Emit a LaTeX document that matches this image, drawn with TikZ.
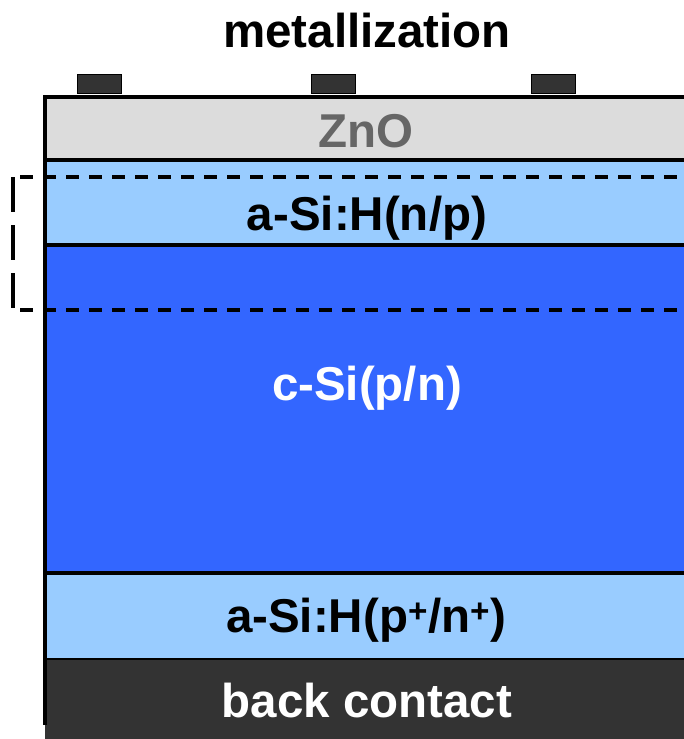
\documentclass[tikz,border=0pt]{standalone}
\usepackage{fontspec}
\setmainfont{Liberation Sans}
\usepackage{tikz}
\usetikzlibrary{ positioning, % For easy node-relative placements
               }
\definecolor{zncol}{HTML}{DCDCDC}
\definecolor{zntext}{HTML}{666666}
\definecolor{lightsi}{HTML}{99CCFF}
\definecolor{bulksi}{HTML}{3366FF}
\definecolor{darkmetal}{HTML}{333333}
\tikzstyle{layer} = [rectangle, inner sep=0pt, outer sep=0pt, minimum width=680pt, line width=3.5pt]
\tikzstyle{contact} = [rectangle, inner sep=0pt, minimum width=44pt, minimum height=19pt, fill=darkmetal, draw=black, line width=1pt]
\tikzstyle{label} = [anchor=base, inner sep=0pt, font=\fontsize{47.5}{57}\selectfont\bfseries]
\tikzstyle{dashline} = [line width=3.6pt, dash pattern=on 13pt off 10pt]

\begin{document}
\begin{tikzpicture}[x=1pt, y=-1pt]
  \clip (0,0) rectangle (684,739);

  % layer stack
  \node (zno) [layer, draw=black, fill=zncol, minimum height=63pt, anchor=north west] at (45,97) {};
  \node (emitter) [layer, draw=black, fill=lightsi, minimum height=85pt, below=0pt of zno] {};
  \node (wafer) [layer, draw=black, fill=bulksi, minimum height=328pt, below=0pt of emitter] {};
  \node (bsf) [layer, draw=black, fill=lightsi, minimum height=87pt, below=0pt of wafer] {};
  \node (back) [layer, fill=darkmetal, minimum height=90pt, below=0pt of bsf] {};
  \draw[line width=3.5pt] (back.north west) -- ++(0,65);

  % grid fingers
  \node (c1) [contact] at (99,83.5) {};
  \node (c2) [contact] at (333.5,83.5) {};
  \node (c3) [contact] at (553.5,83.5) {};

  % heterojunction region
  \draw[dashline] (20,177) -- (700,177);
  \draw[dashline] (20,310) -- (700,310);
  \draw[line width=3.6pt, dash pattern=on 35pt off 13pt] (13,177) -- (13,310);

  \node (title) [label] at (367,47) {metallization};
  \node (lzno) [label, text=zntext] at (366,147) {ZnO};
  \node (lemitter) [label] at (367,230) {a-Si:H(n/p)};
  \node (lwafer) [label, text=white] at (367,400) {c-Si(p/n)};
  \node (lbsf) [label] at (366,632) {a-Si:H(p\textsuperscript{+}/n\textsuperscript{+})};
  \node (lback) [label, text=white] at (367,717) {back contact};

\end{tikzpicture}
\end{document}
